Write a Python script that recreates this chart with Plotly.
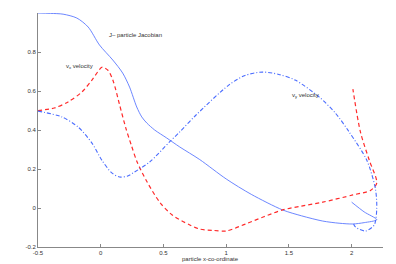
import plotly.graph_objects as go

# J- particle Jacobian (solid)
jac_x = [-0.5, -0.4, -0.3, -0.19, -0.10, -0.01, 0.096, 0.175, 0.23, 0.287, 0.327, 0.367, 0.43, 0.526,
         0.63, 0.79, 1.0, 1.2, 1.45, 1.6, 1.77, 1.9, 2.01, 2.1, 2.2, 2.1, 2.0]
jac_y = [1.0, 0.998, 0.994, 0.974, 0.928, 0.836, 0.759, 0.692, 0.62, 0.518, 0.467, 0.436, 0.40, 0.359,
         0.313, 0.248, 0.149, 0.07, -0.01, -0.04, -0.067, -0.078, -0.082, -0.075, -0.06, -0.02, 0.03]

# v_x velocity (dashed red)
vx_x = [-0.5, -0.37, -0.26, -0.15, -0.07, 0.012, 0.06, 0.1, 0.15, 0.2, 0.245, 0.29, 0.37, 0.47,
        0.57, 0.71, 0.79, 0.9, 1.0, 1.155, 1.3, 1.45, 1.6, 1.77, 2.01, 2.15, 2.2, 2.14, 2.07, 2.01]
vx_y = [0.5, 0.513, 0.544, 0.595, 0.656, 0.722, 0.705, 0.65, 0.53, 0.41, 0.32, 0.236, 0.133, 0.03,
        -0.036, -0.087, -0.108, -0.115, -0.118, -0.082, -0.045, -0.01, 0.01, 0.03, 0.067, 0.09, 0.128,
        0.246, 0.39, 0.61]

# v_y velocity (dash-dot blue)
vy_x = [-0.5, -0.31, -0.18, -0.07, 0.008, 0.088, 0.15, 0.215, 0.27, 0.39, 0.55, 0.63, 0.76, 1.02, 1.15,
        1.29, 1.42, 1.55, 1.74, 1.87, 1.98, 2.12, 2.19, 2.2, 2.18, 2.11, 2.03, 2.01]
vy_y = [0.497, 0.467, 0.415, 0.333, 0.246, 0.18, 0.159, 0.164, 0.185, 0.236, 0.34, 0.39, 0.477, 0.63, 0.68,
        0.697, 0.685, 0.656, 0.57, 0.487, 0.39, 0.246, 0.097, -0.005, -0.087, -0.118, -0.097, -0.072]

x_ticks = [-0.5, 0, 0.5, 1, 1.5, 2]
x_ticklabels = ["-0.5", "0", "0.5", "1", "1.5", "2"]
y_ticks = [-0.2, 0, 0.2, 0.4, 0.6, 0.8]
y_ticklabels = ["-0.2", "0", "0.2", "0.4", "0.6", "0.8"]

fig = go.Figure()
fig.add_trace(go.Scatter(x=jac_x, y=jac_y, mode="lines",
                         line=dict(color="#5b78ff", width=0.9, shape="spline", smoothing=0.8),
                         showlegend=False))
fig.add_trace(go.Scatter(x=vx_x, y=vx_y, mode="lines",
                         line=dict(color="#ff2a2a", width=1.2, dash="4px,3px", shape="spline", smoothing=0.8),
                         showlegend=False))
fig.add_trace(go.Scatter(x=vy_x, y=vy_y, mode="lines",
                         line=dict(color="#4a6cff", width=1.1, dash="4px,2px,1px,2px", shape="spline",
                                   smoothing=0.8),
                         showlegend=False))

txt = dict(family="Liberation Sans, Arial", size=6, color="#333")
fig.add_annotation(x=0.05, y=0.885, text="J\u2013 particle Jacobian", showarrow=False,
                   xanchor="left", font=txt)
fig.add_annotation(x=-0.29, y=0.725, text="v<sub>x</sub> velocity", showarrow=False,
                   xanchor="left", font=txt)
fig.add_annotation(x=1.51, y=0.575, text="v<sub>y</sub> velocity", showarrow=False,
                   xanchor="left", font=txt)
fig.add_annotation(xref="paper", yref="paper", x=0.5, y=0, yshift=-12, text="particle x-co-ordinate",
                   showarrow=False, xanchor="center", yanchor="middle", font=txt)

axis_common = dict(showline=True, linecolor="#888", linewidth=1, mirror=False, showgrid=False,
                   zeroline=False, ticks="inside", ticklen=3, tickcolor="#888", automargin=False,
                   tickfont=dict(family="Liberation Sans, Arial", size=6, color="#333"))
fig.update_xaxes(range=[-0.5, 2.25], tickvals=x_ticks, ticktext=x_ticklabels, **axis_common)
fig.update_yaxes(range=[-0.2, 1.0], tickvals=y_ticks, ticktext=y_ticklabels, **axis_common)

fig.update_layout(width=396, height=264, margin=dict(l=38, r=13, t=13, b=17),
                  paper_bgcolor="white", plot_bgcolor="white")
fig.write_html("out.html", config={"displayModeBar": False},
               post_script="document.body.style.margin='0';")
